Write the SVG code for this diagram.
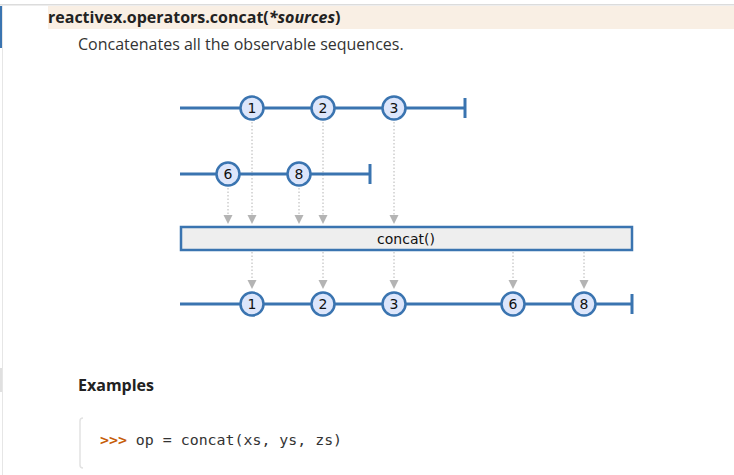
<svg xmlns="http://www.w3.org/2000/svg" width="734" height="475" viewBox="0 0 734 475">
<style>
.tl{stroke:#3a74b0;stroke-width:3;fill:none}
.ev circle{fill:#dde6fb;stroke:#3a74b0;stroke-width:2.5}
.ev text{font-family:"DejaVu Sans",sans-serif;font-size:14px;fill:#111;text-anchor:middle}
.dot{stroke:#b4b4b4;stroke-width:1;stroke-dasharray:1.5,2;fill:none}
.hd{fill:#b4b4b4}
</style>
<rect width="734" height="475" fill="#ffffff"/>
<g id="page">
<rect x="0" y="4" width="734" height="1.5" fill="#dcdcdc"/>
<rect x="2" y="5" width="1" height="470" fill="#e6e6e6"/>
<rect x="0" y="6" width="2" height="42" fill="#3a74b0"/>
<rect x="0" y="368" width="2" height="24" fill="#e0e0e0"/>
<rect x="48" y="6" width="686" height="23" fill="#f9efe4"/>
<text x="48" y="23" font-family="'Open Sans',sans-serif" font-size="16" font-weight="bold" fill="#222">reactivex.operators.concat(<tspan font-style="italic">*sources</tspan>)</text>
<text x="78" y="50" font-family="'Open Sans',sans-serif" font-size="16" fill="#333">Concatenates all the observable sequences.</text>
<text x="78" y="391" font-family="'Open Sans',sans-serif" font-size="16" font-weight="bold" fill="#222">Examples</text>
<path d="M83,418 Q80,418 80,421 L80,465 Q80,468 83,468" fill="none" stroke="#e2e2e2" stroke-width="1.5"/>
<text x="100" y="445" font-family="'DejaVu Sans Mono',monospace" font-size="14.9" fill="#333"><tspan fill="#c65d09" font-weight="bold">&gt;&gt;&gt;</tspan> op = concat(xs, ys, zs)</text>
</g>
<g id="connectors">
<g class="dot">
<line x1="252" y1="122" x2="252" y2="215"/>
<line x1="323" y1="122" x2="323" y2="215"/>
<line x1="394" y1="122" x2="394" y2="215"/>
<line x1="228" y1="188" x2="228" y2="215"/>
<line x1="299" y1="188" x2="299" y2="215"/>
<line x1="252" y1="252" x2="252" y2="281"/>
<line x1="323" y1="252" x2="323" y2="281"/>
<line x1="394" y1="252" x2="394" y2="281"/>
<line x1="513" y1="252" x2="513" y2="281"/>
<line x1="584" y1="252" x2="584" y2="281"/>
</g>
<g class="hd">
<path d="M223.5,215 L232.5,215 L228,224 Z"/>
<path d="M247.5,215 L256.5,215 L252,224 Z"/>
<path d="M294.5,215 L303.5,215 L299,224 Z"/>
<path d="M318.5,215 L327.5,215 L323,224 Z"/>
<path d="M389.5,215 L398.5,215 L394,224 Z"/>
<path d="M247.5,280 L256.5,280 L252,289 Z"/>
<path d="M318.5,280 L327.5,280 L323,289 Z"/>
<path d="M389.5,280 L398.5,280 L394,289 Z"/>
<path d="M508.5,280 L517.5,280 L513,289 Z"/>
<path d="M579.5,280 L588.5,280 L584,289 Z"/>
</g>
</g>
<g id="source1">
<line class="tl" x1="180" y1="108" x2="465" y2="108"/>
<line class="tl" x1="465" y1="98" x2="465" y2="118"/>
</g>
<g id="source2">
<line class="tl" x1="180" y1="174" x2="370" y2="174"/>
<line class="tl" x1="370" y1="164" x2="370" y2="184"/>
</g>
<g id="result">
<line class="tl" x1="180" y1="304" x2="632" y2="304"/>
<line class="tl" x1="632" y1="294" x2="632" y2="314"/>
</g>
<g id="ev-1" class="ev"><circle cx="252" cy="108" r="11.5"/><text x="252" y="113">1</text></g>
<g id="ev-2" class="ev"><circle cx="323" cy="108" r="11.5"/><text x="323" y="113">2</text></g>
<g id="ev-3" class="ev"><circle cx="394" cy="108" r="11.5"/><text x="394" y="113">3</text></g>
<g id="ev-6" class="ev"><circle cx="228" cy="174" r="11.5"/><text x="228" y="179">6</text></g>
<g id="ev-8" class="ev"><circle cx="299" cy="174" r="11.5"/><text x="299" y="179">8</text></g>
<g id="op-concat">
<rect x="181" y="227" width="451" height="23" fill="#eeeeee" stroke="#3a74b0" stroke-width="2.5"/>
<text x="406" y="244" font-family="'DejaVu Sans',sans-serif" font-size="14" fill="#111" text-anchor="middle">concat()</text>
</g>
<g id="out-1" class="ev"><circle cx="252" cy="304" r="11.5"/><text x="252" y="309">1</text></g>
<g id="out-2" class="ev"><circle cx="323" cy="304" r="11.5"/><text x="323" y="309">2</text></g>
<g id="out-3" class="ev"><circle cx="394" cy="304" r="11.5"/><text x="394" y="309">3</text></g>
<g id="out-6" class="ev"><circle cx="513" cy="304" r="11.5"/><text x="513" y="309">6</text></g>
<g id="out-8" class="ev"><circle cx="584" cy="304" r="11.5"/><text x="584" y="309">8</text></g>
</svg>
